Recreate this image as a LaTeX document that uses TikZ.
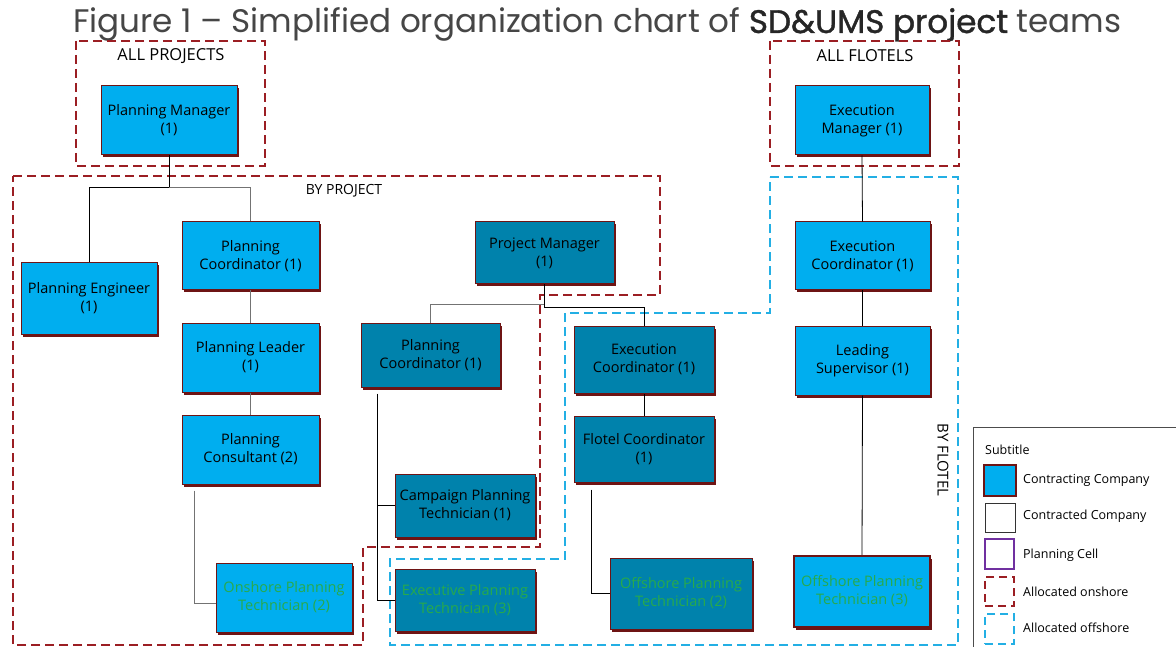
\documentclass[tikz,border=0pt]{standalone}
\usepackage{fontspec}
\setmainfont{Open Sans}
\newfontfamily\titlefont{Poppins}
\newfontfamily\titlebold{Poppins}[FakeBold=1.2]
\usetikzlibrary{calc,shadows}
\definecolor{lcyan}{RGB}{0,174,239}
\definecolor{dteal}{RGB}{0,130,172}
\definecolor{bord}{RGB}{110,20,20}
\definecolor{rdash}{RGB}{155,30,35}
\definecolor{bdash}{RGB}{35,175,228}
\definecolor{gtext}{RGB}{40,170,75}
\definecolor{pcell}{RGB}{112,48,160}
\definecolor{ttl}{RGB}{70,70,70}
\tikzset{
  box/.style={rectangle, draw=bord, line width=1pt, align=center, inner sep=2pt,
    font=\fontsize{14.5}{18}\selectfont, text=black,
    drop shadow={shadow xshift=2pt, shadow yshift=-2.5pt, fill=bord, opacity=1}},
  lbox/.style={box, fill=lcyan},
  dbox/.style={box, fill=dteal},
  gtxt/.style={text=gtext},
  onshore/.style={draw=rdash, line width=1.6pt, dash pattern=on 9pt off 5pt},
  offshore/.style={draw=bdash, line width=1.5pt, dash pattern=on 9pt off 5pt},
  conn/.style={draw=black, line width=0.8pt},
  gconn/.style={draw=black!55, line width=1pt},
  lbl/.style={font=\fontsize{14}{16}\selectfont, inner sep=0pt},
  biglbl/.style={font=\fontsize{16.5}{18}\selectfont, inner sep=0pt},
  legtxt/.style={font=\fontsize{12.5}{14}\selectfont, anchor=west, inner sep=0pt},
}
\begin{document}
\begin{tikzpicture}[x=1pt,y=-1pt]
\useasboundingbox (0,0) rectangle (1176,647);
\fill[white] (0,0) rectangle (1176,647);
% title
\node[anchor=base west, inner sep=0pt, font=\titlefont\fontsize{32.6}{34}\selectfont, text=ttl] (title) at (73,33)
  {Figure 1 – Simplified organization chart of {\titlebold\color{black!85}SD\&UMS project} teams};
% grouping regions
\draw[onshore] (76,41) rectangle (265,166);
\draw[onshore] (770,41) rectangle (959,166);
\draw[onshore] (13,176) -- (660,176) -- (660,295) -- (540,295) -- (540,547) -- (363,547) -- (363,645) -- (13,645) -- cycle;
\draw[offshore] (770,177) -- (958,177) -- (958,645) -- (390,645) -- (390,559) -- (565,559) -- (565,313) -- (770,313) -- cycle;
\node[biglbl] (allp) at (171,56) {ALL PROJECTS};
\node[biglbl] (allf) at (865,56) {ALL FLOTELS};
\node[lbl] (byp) at (344,191) {BY PROJECT};
\node[lbl, font=\fontsize{15}{16}\selectfont, rotate=-90] (byf) at (943,460) {BY FLOTEL};
% boxes
\node[lbox, minimum width=136, minimum height=69] (pm) at (169,120.5) {Planning Manager\\(1)};
\node[lbox, minimum width=134, minimum height=69] (em) at (862,120.5) {Execution\\Manager (1)};
\node[lbox, minimum width=136, minimum height=71] (pe) at (89,298.5) {Planning Engineer\\(1)};
\node[lbox, minimum width=137, minimum height=68] (pc1) at (250.5,256) {Planning\\Coordinator (1)};
\node[lbox, minimum width=137, minimum height=69] (pl) at (250.5,357.5) {Planning Leader\\(1)};
\node[lbox, minimum width=137, minimum height=69] (pcons) at (250.5,449.5) {Planning\\Consultant (2)};
\node[lbox, gtxt, minimum width=136, minimum height=69] (opt2) at (284,597.5) {Onshore Planning\\Technician (2)};
\node[dbox, minimum width=139, minimum height=62] (prm) at (544.5,253) {Project Manager\\(1)};
\node[dbox, minimum width=139, minimum height=64] (pc2) at (430.5,355) {Planning\\Coordinator (1)};
\node[dbox, minimum width=140, minimum height=67] (ec2) at (644,359.5) {Execution\\Coordinator (1)};
\node[dbox, minimum width=140, minimum height=66] (fc) at (644,449) {Flotel Coordinator\\(1)};
\node[dbox, minimum width=140, minimum height=63] (cpt) at (465,505.5) {Campaign Planning\\Technician (1)};
\node[dbox, gtxt, minimum width=140, minimum height=62] (ept) at (465,600) {Executive Planning\\Technician (3)};
\node[dbox, gtxt, minimum width=142, minimum height=71] (opt2b) at (681,593.5) {Offshore Planning\\Technician (2)};
\node[lbox, minimum width=135, minimum height=68] (ec3) at (862.5,256) {Execution\\Coordinator (1)};
\node[lbox, minimum width=135, minimum height=69] (ls) at (862.5,360.5) {Leading\\Supervisor (1)};
\node[lbox, gtxt, line width=2.5pt, minimum width=136, minimum height=71] (opt3) at (862,591.5) {Offshore Planning\\Technician (3)};
% connectors
\draw[conn] (pm.south) -- ++(0,32) coordinate (j1);
\draw[conn] (j1) -| (pe.north);
\draw[gconn] (j1) -| (pc1.north);
\draw[gconn] (pc1.south) -- (pl.north);
\draw[gconn] (pl.south) -- (pcons.north);
\draw[gconn] ($(pcons.south west)+(13,6)$) |- ($(opt2.west)+(0,6)$);
\draw[gconn] ($(prm.south)+(0,20)$) -| (pc2.north);
\draw[conn] (prm.south) -- ++(0,23) -| (ec2.north);
\coordinate (v) at ($(pc2.south west)+(17,6)$);
\draw[conn] (v) |- (ept.west);
\draw[conn] (v |- cpt.west) -- (cpt.west);
\draw[conn] (ec2.south) -- (fc.north);
\draw[conn] ($(fc.south west)+(18,7)$) |- (opt2b.west);
\draw[conn] (em.south) -- (ec3.north);
\draw[conn] (ec3.south) -- (ls.north);
\draw[conn] (ls.south) -- (opt3.north);
% legend
\draw[draw=black!70, line width=0.8pt] (973,427) rectangle (1182,655);
\node[legtxt] (sub) at (985,450) {Subtitle};
\node[draw=bord, line width=2pt, fill=lcyan, minimum width=32, minimum height=31, inner sep=0pt] (s1) at (999.5,480) {};
\node[draw=black!80, line width=0.8pt, minimum width=30, minimum height=29, inner sep=0pt] (s2) at (1000,517.5) {};
\node[draw=pcell, line width=1.3pt, minimum width=29, minimum height=30, inner sep=0pt] (s3) at (999.5,554) {};
\node[draw=rdash, line width=1.5pt, dash pattern=on 8pt off 5pt, minimum width=29, minimum height=29, inner sep=0pt] (s4) at (999.5,591.5) {};
\node[draw=bdash, line width=1.5pt, dash pattern=on 8pt off 5pt, minimum width=29, minimum height=30, inner sep=0pt] (s5) at (999.5,629) {};
\node[legtxt] (t1) at (1023,480) {Contracting Company};
\node[legtxt] (t2) at (1023,516) {Contracted Company};
\node[legtxt] (t3) at (1023,555) {Planning Cell};
\node[legtxt] (t4) at (1023,592) {Allocated onshore};
\node[legtxt] (t5) at (1023,628) {Allocated offshore};
\end{tikzpicture}
\end{document}
